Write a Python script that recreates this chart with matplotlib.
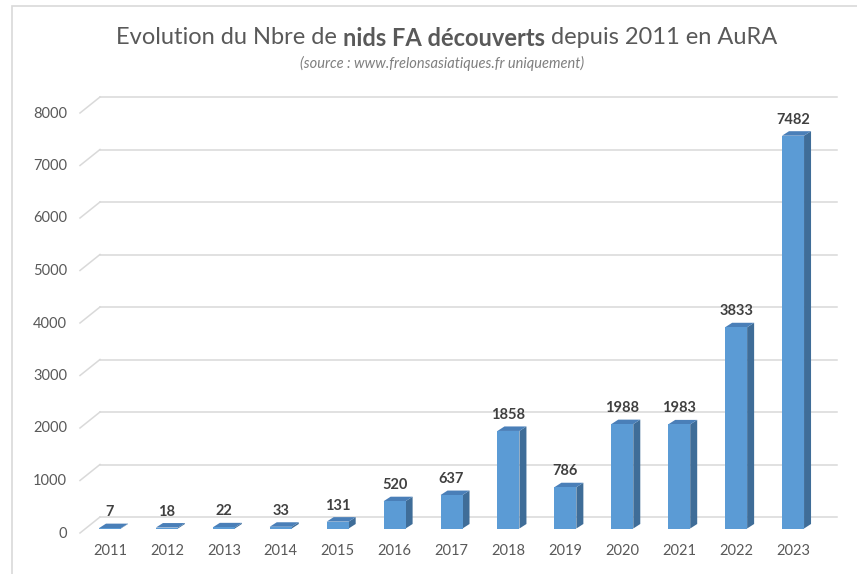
import numpy as np
from matplotlib import pyplot as plt
from matplotlib.patches import Rectangle, Polygon

years = ['2011', '2012', '2013', '2014', '2015', '2016', '2017',
         '2018', '2019', '2020', '2021', '2022', '2023']
nids = [7, 18, 22, 33, 131, 520, 637, 1858, 786, 1988, 1983, 3833, 7482]
yticks = [0, 1000, 2000, 3000, 4000, 5000, 6000, 7000, 8000]

title_parts = [('Evolution du Nbre de ', 'normal'),
               ('nids FA découverts', 'bold'),
               (' depuis 2011 en AuRA', 'normal')]
subtitle = '(source : www.frelonsasiatiques.fr uniquement)'

W, H = 857, 574
# pixel layout of the "3D" column chart
x0_px, step_px = 110, 56.92      # centre of first column, spacing
y0_px, scale = 528.5, 0.0525     # front floor line, px per unit

plt.rcParams['font.family'] = ['Lato', 'DejaVu Sans']

fig = plt.figure(figsize=(W / 100, H / 100), dpi=100)
ax = fig.add_axes([0, 0, 1, 1])
ax.set_xlim(-x0_px / step_px, (W - x0_px) / step_px)
ax.set_ylim((y0_px - H) / scale, y0_px / scale)
ax.axis('off')

def px_x(p):
    return (p - x0_px) / step_px

def px_y(p):
    return p / scale

# outer frame
fig.patches.append(Rectangle((12 / W, -0.1), 2, 1.1 - 6 / H, transform=fig.transFigure,
                             fill=False, edgecolor='#d9d9d9', lw=1.2))

# back wall gridlines + left diagonals
back_dy = px_y(11.5)
front_dy = px_y(4.5)
for v in yticks:
    ax.plot([px_x(100), px_x(837)], [v + back_dy, v + back_dy], color='#d9d9d9', lw=1.1, zorder=1)
    ax.plot([px_x(80), px_x(100)], [v - front_dy, v + back_dy], color='#d9d9d9', lw=1.1, zorder=1)
    ax.text(px_x(67), v - px_y(5), str(v), ha='right', va='center', fontsize=10.5, color='#595959')

# columns
w = 22 / step_px
ddx, ddy = 7 / step_px, px_y(4.5)
for i, v in enumerate(nids):
    xl, xr = i - w / 2, i + w / 2
    ax.add_patch(Polygon([(xr, 0), (xr + ddx, ddy), (xr + ddx, v + ddy), (xr, v)],
                         closed=True, facecolor='#3f6d98', edgecolor='none', zorder=3))
    ax.add_patch(Polygon([(xl, v), (xr, v), (xr + ddx, v + ddy), (xl + ddx, v + ddy)],
                         closed=True, facecolor='#4a7fb8', edgecolor='none', zorder=4))
    ax.add_patch(Rectangle((xl, 0), w, v, facecolor='#5b9bd5', edgecolor='none', zorder=5))
    ax.text(i, v + px_y(16), str(v), ha='center', va='center', fontsize=10.5,
            fontweight='bold', color='#404040', zorder=6)
    ax.text(i, px_y(-22.5), years[i], ha='center', va='center', fontsize=10.5, color='#595959')

# title with a bold middle part
renderer = fig.canvas.get_renderer()
pieces = []
for txt, wgt in title_parts:
    t = fig.text(0, 1 - 38 / H, txt, fontsize=17, fontweight=wgt, color='#595959',
                 ha='left', va='center')
    pieces.append(t)
widths = [t.get_window_extent(renderer).width for t in pieces]
x = 447 - sum(widths) / 2
for t, wd in zip(pieces, widths):
    t.set_x(x / W)
    x += wd

fig.text(442 / W, 1 - 63 / H, subtitle, fontsize=10.5, style='italic', color='#7f7f7f',
         ha='center', va='center')

plt.savefig('out.png', dpi=100)
plt.close()
